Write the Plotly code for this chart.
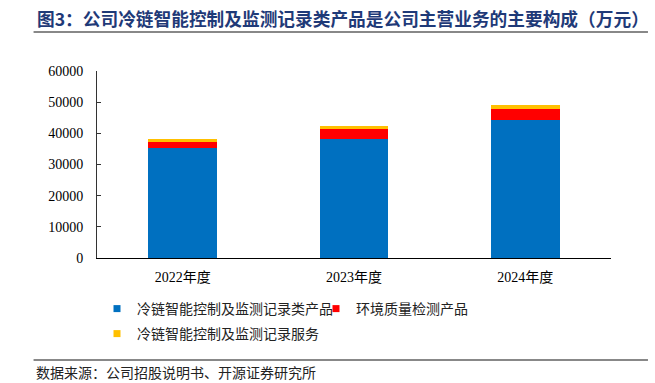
import plotly.graph_objects as go

W, H = 655, 383

categories = ["2022年度", "2023年度", "2024年度"]
series_names = ["冷链智能控制及监测记录类产品", "环境质量检测产品", "冷链智能控制及监测记录服务"]
cold_chain_products = [35400, 38100, 44200]
env_quality_products = [1800, 3400, 3700]
cold_chain_services = [900, 850, 1100]
y_ticks = [0, 10000, 20000, 30000, 40000, 50000, 60000]
y_tick_labels = ["0", "10000", "20000", "30000", "40000", "50000", "60000"]

colors = ["#0070C0", "#FF0000", "#FFC000"]
series_values = [cold_chain_products, env_quality_products, cold_chain_services]

title_text = "图3：公司冷链智能控制及监测记录类产品是公司主营业务的主要构成（万元）"
source_text = "数据来源：公司招股说明书、开源证券研究所"

fig = go.Figure()
for name, vals, col in zip(series_names, series_values, colors):
    fig.add_trace(go.Bar(x=categories, y=vals, name=name, marker=dict(color=col, line=dict(width=0)),
                         showlegend=False))

legend_ids = ["legend", "legend2", "legend3"]
for name, col, lid in zip(series_names, colors, legend_ids):
    fig.add_trace(go.Scatter(x=[None], y=[None], mode="markers", name=name,
                             marker=dict(symbol="square", size=7, color=col, line=dict(width=0)),
                             legend=lid, showlegend=True))

cjk = "Noto Sans CJK SC"
serif = "Liberation Serif, Noto Sans CJK SC"

def leg(xpx, ypx):
    return dict(x=xpx / W, y=1 - ypx / H, xref="container", yref="container",
                xanchor="left", yanchor="middle", orientation="h",
                font=dict(family=cjk, size=14, color="#222"),
                bgcolor="rgba(0,0,0,0)", itemwidth=30, borderwidth=0,
                tracegroupgap=0)

plot_l, plot_r, plot_t, plot_b = 96.5, W - 44, 71, H - 125
pw, ph = plot_r - plot_l, plot_b - plot_t

def px_to_paper_x(px):
    return (px - plot_l) / pw

def px_to_paper_y(py):
    return (plot_b - py) / ph

fig.update_layout(
    width=W, height=H,
    margin=dict(l=plot_l, r=W - plot_r, t=plot_t, b=H - plot_b, pad=0, autoexpand=False),
    plot_bgcolor="white", paper_bgcolor="white",
    barmode="stack", bargap=0.6,
    showlegend=True,
    legend=leg(97, 309),
    legend2=leg(316, 309),
    legend3=leg(97, 334),
    xaxis=dict(showline=True, linecolor="#000", linewidth=1, ticks="", showgrid=False,
               tickfont=dict(family=serif, size=14, color="#000"), ticklabelstandoff=6),
    yaxis=dict(range=[0, 60000], tickvals=y_ticks, ticktext=y_tick_labels,
               showline=True, linecolor="#333", linewidth=1,
               ticks="inside", ticklen=4, tickcolor="#333", showgrid=False, zeroline=False,
               tickfont=dict(family=serif, size=14, color="#000"), ticklabelstandoff=10),
    annotations=[
        dict(text=title_text, x=px_to_paper_x(34), y=px_to_paper_y(18), xref="paper", yref="paper",
             showarrow=False, xanchor="left", yanchor="middle",
             font=dict(family=cjk, size=17.7, color="#1F3A78", weight="bold")),
        dict(text=source_text, x=px_to_paper_x(33), y=px_to_paper_y(372), xref="paper", yref="paper",
             showarrow=False, xanchor="left", yanchor="middle",
             font=dict(family=cjk, size=14, color="#222")),
    ],
    shapes=[
        dict(type="line", xref="paper", yref="paper", x0=px_to_paper_x(33), x1=px_to_paper_x(648),
             y0=px_to_paper_y(32), y1=px_to_paper_y(32), line=dict(color="#888", width=2)),
        dict(type="line", xref="paper", yref="paper", x0=px_to_paper_x(33), x1=px_to_paper_x(648),
             y0=px_to_paper_y(360), y1=px_to_paper_y(360), line=dict(color="#888", width=2)),
    ],
)

fig.write_html("out.html", config={"displayModeBar": False, "staticPlot": False},
               post_script="document.body.style.margin='0';document.body.style.overflow='hidden';")
